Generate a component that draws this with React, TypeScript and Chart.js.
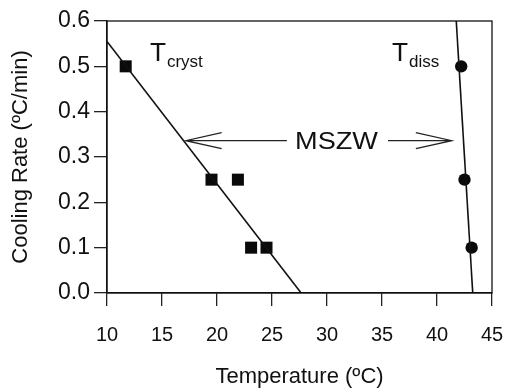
import React, { useEffect, useRef } from "react";
import { Chart, registerables } from "chart.js";

Chart.register(...registerables);

// Measured points
const crystTemp = [11.7, 19.5, 21.9, 23.1, 24.5];
const crystRate = [0.5, 0.25, 0.25, 0.1, 0.1];
const dissTemp = [42.2, 42.5, 43.15];
const dissRate = [0.5, 0.25, 0.1];
// Fitted lines (end points)
const crystFitTemp = [10, 27.65];
const crystFitRate = [0.555, 0];
const dissFitTemp = [41.75, 43.25];
const dissFitRate = [0.6, 0];
// Axis ticks
const xTickValues = [10, 15, 20, 25, 30, 35, 40, 45];
const yTickValues = [0, 0.1, 0.2, 0.3, 0.4, 0.5, 0.6];
// Annotation anchors
const mszwRate = 0.336;
const mszwLeftArrow = [17.15, 26.35];
const mszwRightArrow = [35.55, 41.35];
const mszwLabelTemp = 30.86;

const FONT = "'Liberation Sans', Arial, sans-serif";

const annotPlugin = {
  id: "annot",
  afterDraw(chart: any) {
    const { ctx, chartArea, scales } = chart;
    const xs = scales.x;
    const ys = scales.y;
    ctx.save();
    // frame
    ctx.strokeStyle = "#111";
    ctx.lineWidth = 1.3;
    ctx.strokeRect(chartArea.left, chartArea.top, chartArea.right - chartArea.left, chartArea.bottom - chartArea.top);

    ctx.fillStyle = "#111";
    const stretchText = (txt: string, px: number, py: number, size: number, sx: number, align = "left") => {
      ctx.save();
      ctx.font = `${size}px ${FONT}`;
      ctx.textBaseline = "alphabetic";
      const w = ctx.measureText(txt).width * sx;
      let x0 = px;
      if (align === "center") x0 = px - w / 2;
      ctx.translate(x0, py);
      ctx.scale(sx, 1);
      ctx.fillText(txt, 0, 0);
      ctx.restore();
      return w;
    };
    // T_cryst
    let px = xs.getPixelForValue(13.9);
    let py = ys.getPixelForValue(0.512);
    let w = stretchText("T", px, py, 25, 1.05);
    stretchText("cryst", px + w + 1, py + 6, 17, 1.0);
    // T_diss
    px = xs.getPixelForValue(35.9);
    w = stretchText("T", px, py, 25, 1.05);
    stretchText("diss", px + w + 1, py + 6, 17, 1.0);

    // MSZW
    const ay = ys.getPixelForValue(mszwRate);
    stretchText("MSZW", xs.getPixelForValue(mszwLabelTemp), ay + 8.5, 24, 1.13, "center");

    ctx.strokeStyle = "#222";
    ctx.lineWidth = 1.2;
    // left arrow
    const l0 = xs.getPixelForValue(mszwLeftArrow[0]);
    const l1 = xs.getPixelForValue(mszwLeftArrow[1]);
    ctx.beginPath();
    ctx.moveTo(l1, ay);
    ctx.lineTo(l0, ay);
    ctx.moveTo(l0 + 36, ay - 8);
    ctx.lineTo(l0, ay);
    ctx.lineTo(l0 + 36, ay + 8);
    ctx.stroke();
    // right arrow
    const r0 = xs.getPixelForValue(mszwRightArrow[0]);
    const r1 = xs.getPixelForValue(mszwRightArrow[1]);
    ctx.beginPath();
    ctx.moveTo(r0, ay);
    ctx.lineTo(r1, ay);
    ctx.moveTo(r1 - 36, ay - 8);
    ctx.lineTo(r1, ay);
    ctx.lineTo(r1 - 36, ay + 8);
    ctx.stroke();
    ctx.restore();
  },
};

export default function App() {
  const ref = useRef<HTMLCanvasElement | null>(null);
  useEffect(() => {
    if (!ref.current) return;
    const toPts = (xs: number[], ys: number[]) => xs.map((x, i) => ({ x, y: ys[i] }));
    const chart = new Chart(ref.current, {
      type: "scatter",
      data: {
        datasets: [
          {
            label: "Tcryst fit",
            type: "line",
            data: toPts(crystFitTemp, crystFitRate),
            borderColor: "#111",
            borderWidth: 1.6,
            pointRadius: 0,
            fill: false,
          } as any,
          {
            label: "Tdiss fit",
            type: "line",
            data: toPts(dissFitTemp, dissFitRate),
            borderColor: "#111",
            borderWidth: 1.6,
            pointRadius: 0,
            fill: false,
          } as any,
          {
            label: "Tcryst",
            data: toPts(crystTemp, crystRate),
            pointStyle: "rect",
            pointRadius: 8.5,
            backgroundColor: "#0a0a0a",
            borderColor: "#0a0a0a",
            borderWidth: 0,
          },
          {
            label: "Tdiss",
            data: toPts(dissTemp, dissRate),
            pointStyle: "circle",
            pointRadius: 6.2,
            backgroundColor: "#0a0a0a",
            borderColor: "#0a0a0a",
            borderWidth: 0,
          },
        ],
      },
      options: {
        responsive: false,
        animation: false,
        events: [],
        layout: { padding: { top: 21, right: 15, left: 0, bottom: 0 } },
        plugins: { legend: { display: false }, tooltip: { enabled: false }, title: { display: false } },
        scales: {
          x: {
            type: "linear",
            min: 10,
            max: 45,
            afterBuildTicks: (s: any) => {
              s.ticks = xTickValues.map((v) => ({ value: v }));
            },
            afterFit: (s: any) => {
              s.height = 97;
              s.paddingLeft = 0;
              s.paddingRight = 0;
            },
            grid: { drawOnChartArea: false, drawTicks: true, tickLength: 13, color: "#222", lineWidth: 1.3 },
            border: { display: true, color: "#111", width: 1.3 },
            ticks: {
              color: "#111",
              font: { family: FONT, size: 20 },
              padding: 17,
              maxRotation: 0,
              callback: (v: any) => String(v),
            },
            title: {
              display: true,
              text: "Temperature (ºC)",
              color: "#111",
              font: { family: FONT, size: 22 },
              padding: { top: 0, bottom: 0 },
            },
          },
          y: {
            type: "linear",
            min: 0,
            max: 0.6,
            afterBuildTicks: (s: any) => {
              s.ticks = yTickValues.map((v) => ({ value: v }));
            },
            afterFit: (s: any) => {
              s.width = 107;
              s.paddingTop = 0;
              s.paddingBottom = 0;
            },
            grid: { drawOnChartArea: false, drawTicks: true, tickLength: 13, color: "#222", lineWidth: 1.3 },
            border: { display: true, color: "#111", width: 1.3 },
            ticks: {
              color: "#111",
              font: { family: FONT, size: 23 },
              padding: 4,
              callback: (v: any) => Number(v).toFixed(1),
            },
            title: {
              display: true,
              text: "Cooling Rate (ºC/min)",
              color: "#111",
              font: { family: FONT, size: 22 },
              padding: { top: 8, bottom: 0 },
            },
          },
        },
      },
      plugins: [annotPlugin],
    });
    return () => chart.destroy();
  }, []);
  return (
    <div style={{ position: "absolute", left: 0, top: 0, width: 507, height: 390, background: "#fff" }}>
      <canvas ref={ref} width={507} height={390} style={{ display: "block" }} />
    </div>
  );
}
